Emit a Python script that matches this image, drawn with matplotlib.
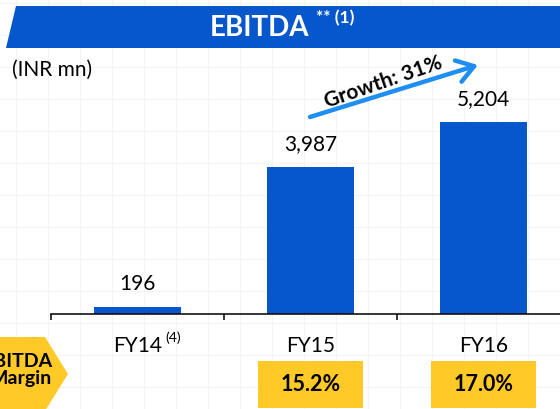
import numpy as np
import matplotlib.pyplot as plt
from matplotlib.patches import Polygon, Rectangle
from matplotlib.transforms import blended_transform_factory

plt.rcParams['font.family'] = ['Lato', 'DejaVu Sans']

years = ['FY14', 'FY15', 'FY16']
year_notes = ['(4)', '', '']
ebitda = [196, 3987, 5204]
margins = ['', '15.2%', '17.0%']
growth_label = 'Growth: 31%'

blue = '#0657CC'
yellow = '#FFC928'
arrow_blue = '#1E8EF2'

W, H = 560, 409
fig = plt.figure(figsize=(W / 100, H / 100), dpi=100)

# background layer in pixel coordinates (y down)
bg = fig.add_axes([0, 0, 1, 1])
bg.set_xlim(0, W)
bg.set_ylim(H, 0)
bg.axis('off')

# faint slide grid
for gx in np.arange(16, W, 32):
    bg.axvline(gx, color='#F4F4F4', lw=0.8, zorder=0)
for gy in np.arange(2.7, H, 32):
    bg.axhline(gy, color='#F4F4F4', lw=0.8, zorder=0)

# header band
bg.add_patch(Polygon([(6, 48), (16, 6), (W, 6), (W, 48)], closed=True,
                     color=blue, lw=0, zorder=2))
bg.text(260, 28, 'EBITDA', color='white', fontsize=20, fontweight='bold',
        ha='center', va='center', zorder=3)
bg.text(316, 10, '** (1)', color='white', fontsize=12.5, fontweight='bold',
        ha='left', va='top', zorder=3)

bg.text(12, 70, '(INR mn)', fontsize=15, ha='left', va='center')

# growth arrow
bg.annotate('', xy=(478, 65), xytext=(310, 117),
            arrowprops=dict(arrowstyle='->, head_length=1.2, head_width=0.8',
                            color=arrow_blue, lw=3.2, mutation_scale=10,
                            shrinkA=0, shrinkB=0), zorder=3)
bg.text(383, 82, growth_label, fontsize=15, fontweight='bold', rotation=19,
        rotation_mode='anchor', ha='center', va='center', zorder=4)

# margin chevron
bg.add_patch(Polygon([(0, 337), (45, 337), (68, 374), (45, 411), (0, 411)],
                     closed=True, color=yellow, lw=0, zorder=2))
bg.text(52, 370, 'EBITDA\nMargin', fontsize=14, fontweight='bold',
        ha='right', va='center', multialignment='right', linespacing=1.0,
        zorder=3)

# main bar chart
ax_bottom = (H - 314) / H
ax = fig.add_axes([51 / W, ax_bottom, 519 / W, 258 / H])
ax.patch.set_alpha(0)
x = np.arange(len(years))
ax.bar(x, ebitda, width=0.5, color=blue, zorder=2)
ax.set_xlim(-0.5, 2.5)
ax.set_ylim(0, 7000)
for s in ['top', 'right', 'left']:
    ax.spines[s].set_visible(False)
ax.spines['bottom'].set_linewidth(1.1)
ax.set_yticks([])
ax.set_xticks(np.arange(len(years)) - 0.5)
ax.set_xticklabels([])
ax.tick_params(axis='x', direction='out', length=4.5, width=1.1, color='black')

for xi, v in zip(x, ebitda):
    ax.annotate(f'{v:,}', xy=(xi, v), xytext=(0, 23), textcoords='offset pixels',
                ha='center', va='center', fontsize=15)

for xi, lab, note in zip(x, years, year_notes):
    ax.annotate(lab, xy=(xi, 0), xycoords=('data', 'axes fraction'),
                xytext=(0, -32), textcoords='offset pixels',
                ha='center', va='center', fontsize=15, annotation_clip=False)
    if note:
        ax.annotate(note, xy=(xi, 0), xycoords=('data', 'axes fraction'),
                    xytext=(28, -24), textcoords='offset pixels',
                    ha='left', va='center', fontsize=10, annotation_clip=False)

trans = blended_transform_factory(ax.transData, ax.transAxes)
box_w = 105 / 173
for xi, m in zip(x, margins):
    if not m:
        continue
    ax.add_patch(Rectangle((xi - box_w / 2, -0.364), box_w, 0.182,
                           transform=trans, color=yellow, lw=0, clip_on=False))
    ax.text(xi, -0.273, m, transform=trans, ha='center', va='center',
            fontsize=15.5, fontweight='bold', clip_on=False)

fig.savefig('out.png', dpi=100)
